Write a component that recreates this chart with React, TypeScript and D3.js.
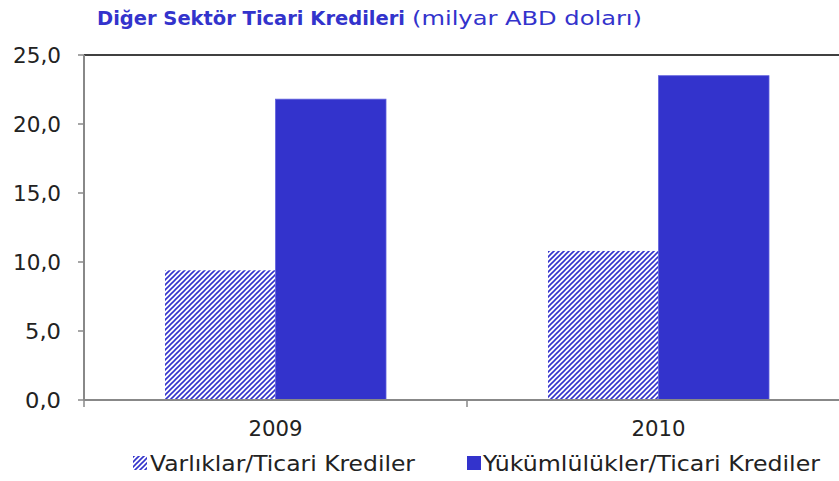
import React from "react";
import * as d3 from "d3";

const categories = ["2009", "2010"];
const seriesNames = ["Varlıklar/Ticari Krediler", "Yükümlülükler/Ticari Krediler"];
const assets = [9.4, 10.8];
const liabilities = [21.8, 23.5];
const yTicks = [0, 5, 10, 15, 20, 25];

const W = 839;
const H = 481;
const left = 84;
const right = 850;
const top = 55;
const bottom = 400;
const BLUE = "#3333CC";
const FONT = "'DejaVu Sans', sans-serif";

export default function App() {
  const y = d3.scaleLinear().domain([0, 25]).range([bottom, top]);
  const x0 = d3.scaleBand<string>().domain(categories).range([left, right]).padding(0);
  const x1 = d3
    .scaleBand<string>()
    .domain(seriesNames)
    .range([0, x0.step()])
    .paddingInner(0)
    .paddingOuter(0.733);
  const seriesValues = [assets, liabilities];
  const fmt = (v: number) => v.toFixed(1).replace(".", ",");
  const tickLen = (s: string) => (s.length === 4 ? 48 : 36);

  return (
    <svg width={W} height={H} style={{ position: "absolute", left: 0, top: 0 }} fontFamily={FONT}>
      <defs>
        <pattern id="hatch" patternUnits="userSpaceOnUse" width="5" height="5">
          <rect width="5" height="5" fill="#ffffff" />
          <path d="M-1,1 l2,-2 M0,5 l5,-5 M4,6 l2,-2" stroke={BLUE} strokeWidth="1.6" />
        </pattern>
      </defs>
      <rect width={W} height={H} fill="#fff" />
      <text x={97} y={25} fontSize={19.5} fill={BLUE} fontWeight="bold" textLength={308} lengthAdjust="spacingAndGlyphs">
        Diğer Sektör Ticari Kredileri
      </text>
      <text x={412} y={25} fontSize={19.5} fill={BLUE} textLength={230} lengthAdjust="spacingAndGlyphs">
        (milyar ABD doları)
      </text>
      {/* top border */}
      <line x1={left} x2={W} y1={top} y2={top} stroke="#000" strokeWidth={1.5} />
      {/* bars */}
      {categories.map((c, ci) =>
        seriesNames.map((s, si) => {
          const v = seriesValues[si][ci];
          const bx = (x0(c) ?? 0) + (x1(s) ?? 0);
          return (
            <rect
              key={c + s}
              x={bx}
              y={y(v)}
              width={x1.bandwidth()}
              height={bottom - y(v)}
              fill={si === 0 ? "url(#hatch)" : BLUE}
              stroke={si === 0 ? "none" : "#6060dd"}
              strokeWidth={si === 0 ? 0 : 0.8}
            />
          );
        })
      )}
      {/* y axis */}
      <line x1={left} x2={left} y1={top} y2={bottom} stroke="#888" strokeWidth={2} />
      {yTicks.map((t) => (
        <g key={t}>
          <line x1={left - 6} x2={left} y1={y(t)} y2={y(t)} stroke="#888" strokeWidth={1.5} />
          <text
            x={61 - tickLen(fmt(t))}
            y={y(t) + 7.5}
            fontSize={20.5}
            fill="#222"
            textLength={tickLen(fmt(t))}
            lengthAdjust="spacingAndGlyphs"
          >
            {fmt(t)}
          </text>
        </g>
      ))}
      {/* x axis */}
      <line x1={left} x2={right} y1={bottom} y2={bottom} stroke="#888" strokeWidth={2} />
      {[...categories.map((c) => x0(c) ?? 0), right].map((tx, i) => (
        <line key={i} x1={tx} x2={tx} y1={bottom} y2={bottom + 7} stroke="#888" strokeWidth={1.5} />
      ))}
      {categories.map((c) => (
        <text
          key={c}
          x={(x0(c) ?? 0) + x0.bandwidth() / 2 - 27}
          y={436}
          fontSize={20.5}
          fill="#222"
          textLength={54}
          lengthAdjust="spacingAndGlyphs"
        >
          {c}
        </text>
      ))}
      {/* legend */}
      <rect x={133} y={456} width={14} height={14} fill="url(#hatch)" />
      <text x={150} y={471} fontSize={20.5} fill="#222" textLength={265} lengthAdjust="spacingAndGlyphs">
        {seriesNames[0]}
      </text>
      <rect x={467} y={456} width={14} height={14} fill={BLUE} />
      <text x={483} y={471} fontSize={20.5} fill="#222" textLength={337} lengthAdjust="spacingAndGlyphs">
        {seriesNames[1]}
      </text>
    </svg>
  );
}
